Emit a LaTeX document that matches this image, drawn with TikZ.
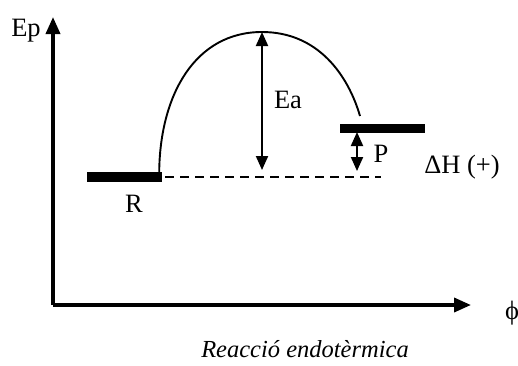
\documentclass[tikz,border=0pt]{standalone}
\usepackage{fontspec}
\setmainfont{Liberation Serif}
\usetikzlibrary{arrows.meta}
\begin{document}
\begin{tikzpicture}[x=1pt,y=-1pt,
  lbl/.style={inner sep=0pt,font=\fontsize{26.5}{28}\selectfont},
  axis/.style={line width=3.6pt,-{Triangle[length=17pt,width=14pt]}},
  dbl/.style={line width=2pt,{Triangle[length=14pt,width=12pt]}-{Triangle[length=14pt,width=12pt]}},
  bar/.style={fill=black,inner sep=0pt,minimum height=10pt}]
\useasboundingbox (0,0) rectangle (518,365);
\coordinate (O) at (53,305);
\coordinate (Ytip) at (53,17);
\coordinate (Xtip) at (471,305);
\draw[axis] (O) -- (Ytip);
\draw[axis] (O) -- (Xtip);
\node[lbl] (Ep) at (26,31) {Ep};
\node[lbl] (phi) at (512,313) {ϕ};
\node[lbl,font=\fontsize{24.5}{26}\selectfont\itshape] (cap) at (305,349) {Reacció endotèrmica};
\node[bar,minimum width=75pt] (R) at (124.5,177) {};
\node[bar,minimum width=85pt,minimum height=9pt] (P) at (382.5,128) {};
\node[lbl] (Rl) at (134,204) {R};
\coordinate (dashend) at (381,177);
\draw[line width=2.2pt,dash pattern=on 9pt off 6pt] (R.east) ++(3,0) -- (dashend);
\coordinate (peak) at (262,32);
\draw[line width=1.9pt] (R.north east) ++(-3,0) .. controls (160,95) and (195,32) .. (peak)
  .. controls (318,32) and (348,75) .. (360,116);
\coordinate (EaB) at (262,170);
\draw[dbl] (peak) -- (EaB);
\node[lbl] (Ea) at (288,100) {Ea};
\coordinate (Pt) at (357,132);
\coordinate (Pb) at (357,171);
\draw[dbl] (Pt) -- (Pb);
\node[lbl] (Pl) at (381,154) {P};
\node[lbl] (dH) at (462,167) {ΔH (+)};
\end{tikzpicture}
\end{document}
